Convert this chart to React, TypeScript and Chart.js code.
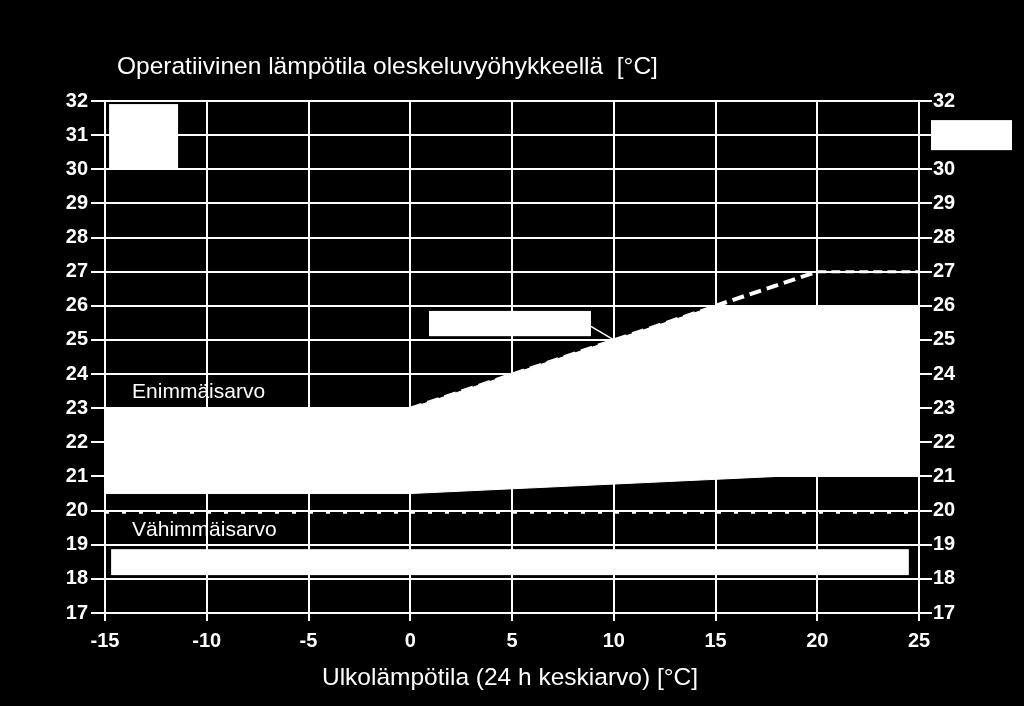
import React, { useEffect, useRef } from "react";
import { Chart, registerables } from "chart.js";

Chart.register(...registerables);

// ---- data ----
const xMin = -15;
const xMax = 25;
const xStep = 5;
const yMin = 17;
const yMax = 32;

const bandUpperX = [-15, 0, 15, 25];
const bandUpperY = [23, 23, 26, 26];
const bandLowerX = [-15, 0, 18, 25];
const bandLowerY = [20.5, 20.5, 21, 21];
const maxLimitX = [0, 15, 20, 25];
const maxLimitY = [23, 26, 27, 27];
const minLimitX = [-15, 25];
const minLimitY = [19.95, 19.95];

const titleText = "Operatiivinen lämpötila oleskeluvyöhykkeellä  [°C]";
const xTitleText = "Ulkolämpötila (24 h keskiarvo) [°C]";
const maxLabel = "Enimmäisarvo";
const minLabel = "Vähimmäisarvo";

const FONT = "'Liberation Sans', Arial, Helvetica, sans-serif";

const toPts = (xs: number[], ys: number[]) => xs.map((x, i) => ({ x, y: ys[i] }));

const overlayPlugin = {
  id: "overlay",
  afterDatasetsDraw(chart: any) {
    const { ctx } = chart;
    const xs = chart.scales.x;
    const ys = chart.scales.y;
    const px = (v: number) => xs.getPixelForValue(v);
    const py = (v: number) => ys.getPixelForValue(v);
    ctx.save();
    ctx.fillStyle = "#ffffff";
    // white label boxes (data coordinates)
    const boxes = [
      [-14.8, -11.41, 30.0, 31.91],
      [25.59, 29.57, 30.56, 31.44],
      [0.92, 8.88, 25.11, 25.85],
      [-14.7, 24.5, 18.11, 18.87],
    ];
    boxes.forEach(([x0, x1, y0, y1]) => {
      ctx.fillRect(px(x0), py(y1), px(x1) - px(x0), py(y0) - py(y1));
    });
    // leader line
    ctx.strokeStyle = "#ffffff";
    ctx.lineWidth = 1.5;
    ctx.beginPath();
    ctx.moveTo(px(8.88), py(25.4));
    ctx.lineTo(px(10), py(25));
    ctx.stroke();
    // labels
    ctx.font = `21px ${FONT}`;
    ctx.textAlign = "left";
    ctx.textBaseline = "alphabetic";
    ctx.fillText(maxLabel, px(-13.67), py(23.3));
    ctx.fillText(minLabel, px(-13.67), py(19.25));
    ctx.restore();
  },
  afterDraw(chart: any) {
    const { ctx, chartArea } = chart;
    ctx.save();
    ctx.fillStyle = "#ffffff";
    ctx.textBaseline = "alphabetic";
    ctx.font = `24.5px ${FONT}`;
    ctx.textAlign = "left";
    ctx.fillText(titleText, 117, 74);
    ctx.font = `24.5px ${FONT}`;
    ctx.textAlign = "center";
    ctx.fillText(xTitleText, (chartArea.left + chartArea.right) / 2 - 2, 685);
    ctx.restore();
  },
};

export default function App() {
  const ref = useRef<HTMLCanvasElement | null>(null);
  useEffect(() => {
    if (!ref.current) return;
    const tickFont = { family: FONT, size: 20, weight: "bold" as const };
    const chart = new Chart(ref.current, {
      type: "line",
      data: {
        datasets: [
          {
            data: toPts(bandUpperX, bandUpperY),
            borderColor: "#ffffff",
            borderWidth: 1,
            backgroundColor: "#ffffff",
            pointRadius: 0,
            fill: "+1",
          },
          {
            data: toPts(bandLowerX, bandLowerY),
            borderColor: "#ffffff",
            borderWidth: 1,
            pointRadius: 0,
            fill: false,
          },
          {
            data: toPts(maxLimitX, maxLimitY),
            borderColor: "#ffffff",
            borderWidth: 3,
            borderDash: [11, 6],
            pointRadius: 0,
            fill: false,
            segment: {
              borderDash: (c: any) => (c.p0.parsed.x >= 20 ? [9, 5] : [12, 6]),
              borderWidth: (c: any) => (c.p0.parsed.x >= 15 && c.p0.parsed.x < 20 ? 4 : 3),
            },
          },
          {
            data: toPts(minLimitX, minLimitY),
            borderColor: "#ffffff",
            borderWidth: 3,
            borderDash: [4, 13],
            pointRadius: 0,
            fill: false,
          },
        ],
      },
      options: {
        animation: false,
        responsive: false,
        devicePixelRatio: 1,
        layout: { padding: { top: 101, left: 0, right: 0, bottom: 0 } },
        plugins: {
          legend: { display: false },
          tooltip: { enabled: false },
          title: { display: false },
        },
        scales: {
          x: {
            type: "linear",
            min: xMin,
            max: xMax,
            ticks: { stepSize: xStep, color: "#ffffff", font: tickFont, padding: 8 },
            grid: { color: "#ffffff", lineWidth: 2, tickLength: 8 },
            border: { color: "#ffffff", width: 2 },
            afterFit: (s: any) => {
              s.height = 93;
            },
          },
          y: {
            type: "linear",
            position: "left",
            min: yMin,
            max: yMax,
            ticks: { stepSize: 1, color: "#ffffff", font: tickFont, padding: 3 },
            grid: { color: "#ffffff", lineWidth: 2, tickLength: 14 },
            border: { color: "#ffffff", width: 2 },
            afterFit: (s: any) => {
              s.width = 105;
            },
          },
          y2: {
            type: "linear",
            position: "right",
            min: yMin,
            max: yMax,
            ticks: { stepSize: 1, color: "#ffffff", font: tickFont, padding: 1 },
            grid: { color: "#ffffff", lineWidth: 2, tickLength: 13, drawOnChartArea: false },
            border: { color: "#ffffff", width: 2 },
            afterFit: (s: any) => {
              s.width = 105;
            },
          },
        },
      },
      plugins: [overlayPlugin],
    });
    return () => chart.destroy();
  }, []);

  return (
    <div
      style={{
        position: "absolute",
        left: 0,
        top: 0,
        width: 1024,
        height: 706,
        background: "#000000",
      }}
    >
      <canvas ref={ref} width={1024} height={706} style={{ display: "block" }} />
    </div>
  );
}
